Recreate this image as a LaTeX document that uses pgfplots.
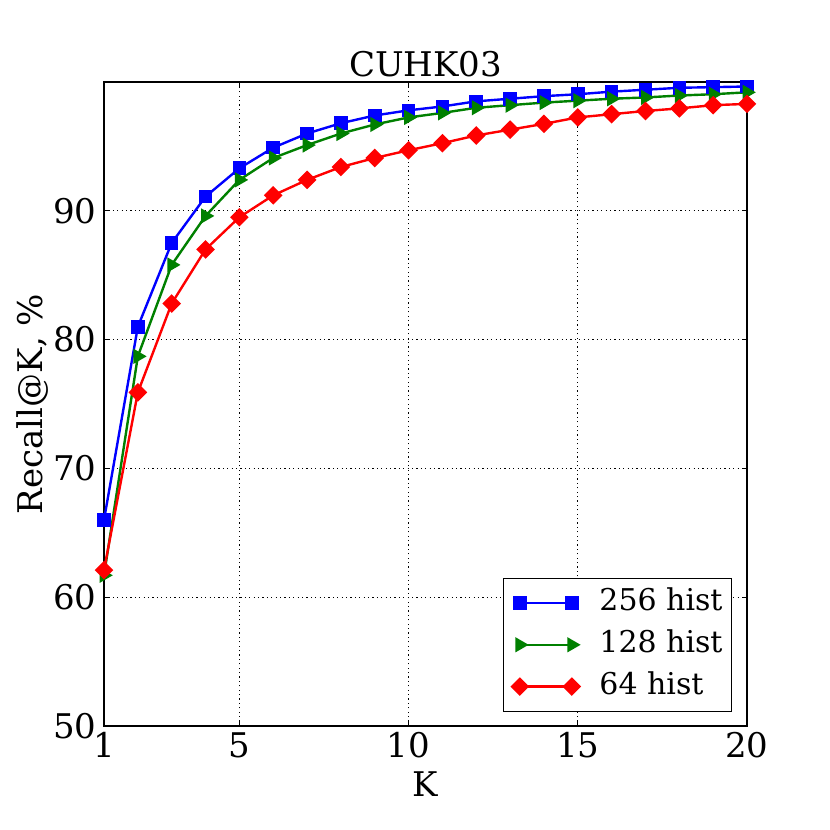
\documentclass[border=0pt]{standalone}
\usepackage{fontspec}
\setmainfont{DejaVu Serif}
\usepackage{pgfplots}
\pgfplotsset{compat=1.18}
\definecolor{mblue}{rgb}{0,0,1}
\definecolor{mgreen}{rgb}{0,0.5,0}
\definecolor{mred}{rgb}{1,0,0}
\begin{document}
\begin{tikzpicture}
\useasboundingbox (0,0) rectangle (415pt,415pt);
\begin{axis}[
  at={(52pt,52pt)}, anchor=south west,
  scale only axis, width=321.5pt, height=322pt,
  xmin=1, xmax=20, ymin=50, ymax=100,
  xtick={1,5,10,15,20}, ytick={50,60,70,80,90},
  tick align=inside, major tick length=2.5pt,
  grid=major,
  major grid style={black, line width=0.4pt, dash pattern=on 0.6pt off 1.6pt},
  axis line style={black, line width=0.6pt},
  tick style={black, line width=0.5pt},
  /pgf/number format/assume math mode=true,
  ticklabel style={font=\fontsize{17}{17}\selectfont},
  xticklabel style={anchor=north, inner sep=0pt, yshift=-3pt},
  yticklabel style={anchor=east, inner sep=0pt, xshift=-3.5pt},
  title={CUHK03},
  every axis title/.style={at={(axis description cs:0.5,1.0083)}, anchor=base, inner sep=0pt, font=\fontsize{17}{17}\selectfont},
  xlabel={K},
  every axis x label/.style={at={(axis description cs:0.5,-0.1087)}, anchor=base, inner sep=0pt, font=\fontsize{17}{17}\selectfont},
  ylabel={Recall@K, \%},
  every axis y label/.style={at={(axis description cs:-0.0949,0.5)}, rotate=90, anchor=base, inner sep=0pt, font=\fontsize{17}{17}\selectfont},
  legend style={at={(axis description cs:1,0)}, anchor=south east, xshift=-7.5pt, yshift=7pt,
    draw=black, fill=white, font=\fontsize{15}{15}\selectfont,
    inner xsep=4.5pt, inner ysep=5.5pt, row sep=6.9pt,
    nodes={inner sep=0pt, text height=11pt, text depth=3pt},
    /tikz/every odd column/.append style={column sep=10pt}},
  legend cell align=left,
  legend image code/.code={%
    \draw[#1, mark=none, line width=1.2pt] (0pt,0pt) -- (26pt,0pt);
    \draw[#1, only marks] plot coordinates {(0pt,0pt) (26pt,0pt)};},
]
\addplot[mblue, line width=1.2pt, mark=square*, mark size=2.8pt, mark options={solid, fill=mblue}] coordinates {
(1,66.0)(2,81.0)(3,87.5)(4,91.1)(5,93.3)(6,94.9)(7,96.0)(8,96.8)(9,97.4)(10,97.8)(11,98.1)(12,98.5)(13,98.7)(14,98.9)(15,99.05)(16,99.25)(17,99.4)(18,99.55)(19,99.6)(20,99.65)};
\addlegendentry{256 hist}
\addplot[mgreen, line width=1.2pt, mark=triangle*, mark size=3.2pt, mark options={solid, fill=mgreen, rotate=-90}] coordinates {
(1,61.7)(2,78.7)(3,85.8)(4,89.6)(5,92.4)(6,94.1)(7,95.1)(8,96.0)(9,96.7)(10,97.25)(11,97.6)(12,98.0)(13,98.2)(14,98.4)(15,98.55)(16,98.7)(17,98.8)(18,98.95)(19,99.05)(20,99.2)};
\addlegendentry{128 hist}
\addplot[mred, line width=1.2pt, mark=square*, mark size=2.7pt, mark options={solid, fill=mred, rotate=45}] coordinates {
(1,62.1)(2,75.9)(3,82.8)(4,87.0)(5,89.5)(6,91.2)(7,92.4)(8,93.4)(9,94.1)(10,94.7)(11,95.25)(12,95.85)(13,96.3)(14,96.75)(15,97.25)(16,97.5)(17,97.75)(18,97.95)(19,98.2)(20,98.3)};
\addlegendentry{64 hist}
\end{axis}
\end{tikzpicture}
\end{document}
